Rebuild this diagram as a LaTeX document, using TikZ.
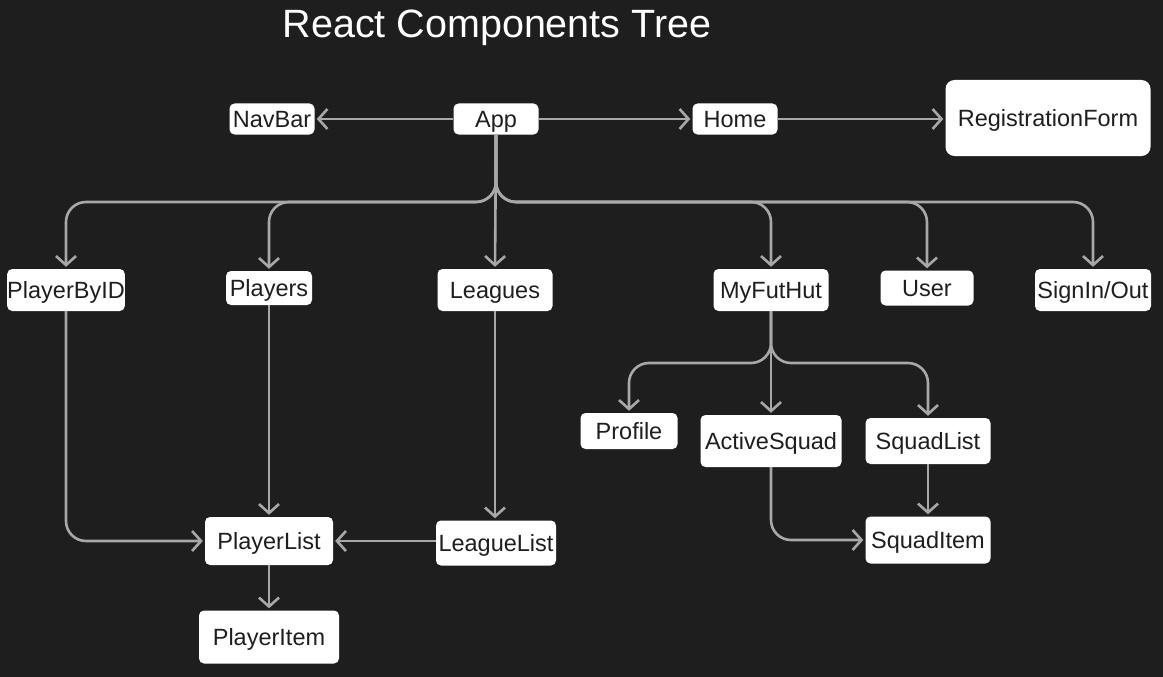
\documentclass[tikz,border=0pt]{standalone}
\usepackage{fontspec}
\setmainfont{Liberation Sans}
\usetikzlibrary{arrows.meta}
\definecolor{bg}{HTML}{1E1E1E}
\definecolor{ln}{HTML}{A8A8A8}
\definecolor{tx}{HTML}{1E1E1E}
\tikzset{
  comp/.style={draw=none, fill=white, rounded corners=5pt, inner sep=0pt, text=tx,
    font=\fontsize{23.5}{25}\selectfont, text height=17pt, text depth=0pt, anchor=center},
  conn/.style={draw=ln, line width=2.6pt, -{Straight Barb[length=9pt,width=20pt,line width=2.6pt]},
    shorten >=2pt, rounded corners=20pt},
}
\begin{document}
\begin{tikzpicture}[x=1pt,y=-1pt]
\fill[bg] (0,0) rectangle (1163,677);
\useasboundingbox (0,0) rectangle (1163,677);
\node[text=white, font=\fontsize{39.5}{41}\selectfont, inner sep=0pt, text height=28pt, text depth=0pt] (title) at (497,24) {React Components Tree};

\node[comp, minimum width=85pt, minimum height=31pt] (NavBar) at (272,119) {NavBar};
\node[comp, minimum width=85pt, minimum height=31pt] (App) at (496,119) {App};
\node[comp, minimum width=85pt, minimum height=31pt] (Home) at (735,119) {Home};
\node[comp, minimum width=205pt, minimum height=76pt, rounded corners=9pt] (Reg) at (1048,118) {RegistrationForm};

\node[comp, minimum width=115pt, minimum height=42pt] (PlayerByID) at (66,290) {PlayerByID};
\node[comp, minimum width=86pt, minimum height=34pt] (Players) at (269,288) {Players};
\node[comp, minimum width=115pt, minimum height=42pt] (Leagues) at (495,290) {Leagues};
\node[comp, minimum width=115pt, minimum height=42pt] (MyFutHut) at (771,290) {MyFutHut};
\node[comp, minimum width=93pt, minimum height=35pt] (User) at (927,288) {User};
\node[comp, minimum width=116pt, minimum height=42pt] (SignIn) at (1093,290) {SignIn/Out};

\node[comp, minimum width=97pt, minimum height=36pt] (Profile) at (629,431) {Profile};
\node[comp, minimum width=141pt, minimum height=52pt] (ActiveSquad) at (771,441) {ActiveSquad};
\node[comp, minimum width=125pt, minimum height=46pt] (SquadList) at (928,441) {SquadList};
\node[comp, minimum width=125pt, minimum height=47pt] (SquadItem) at (928,540) {SquadItem};

\node[comp, minimum width=128pt, minimum height=48pt] (PlayerList) at (269,541) {PlayerList};
\node[comp, minimum width=120pt, minimum height=45pt] (LeagueList) at (496,543) {LeagueList};
\node[comp, minimum width=140pt, minimum height=53pt] (PlayerItem) at (269,637) {PlayerItem};

\coordinate (bus) at (496,202);
\coordinate (mbus) at (771,363);

% top row
\draw[conn] (App.west) -- (NavBar.east);
\draw[conn] (App.east) -- (Home.west);
\draw[conn] (Home.east) -- (Home.east -| Reg.west);

% App fan-out
\draw[conn] (App.south) -- (bus) -| (PlayerByID.north);
\draw[conn] (App.south) -- (bus) -| (Players.north);
\draw[conn] (App.south) -- (Leagues.north);
\draw[conn] (App.south) -- (bus) -| (MyFutHut.north);
\draw[conn] (App.south) -- (bus) -| (User.north);
\draw[conn] (App.south) -- (bus) -| (SignIn.north);

% MyFutHut fan-out
\draw[conn] (MyFutHut.south) -- (mbus) -| (Profile.north);
\draw[conn] (MyFutHut.south) -- (ActiveSquad.north);
\draw[conn] (MyFutHut.south) -- (mbus) -| (SquadList.north);

\draw[conn] (ActiveSquad.south) |- (SquadItem.west);
\draw[conn] (SquadList.south) -- (SquadItem.north);

% players side
\draw[conn] (PlayerByID.south) |- (PlayerList.west);
\draw[conn] (Players.south) -- (PlayerList.north);
\draw[conn] (Leagues.south) -- (Leagues.south |- LeagueList.north);
\draw[conn] (LeagueList.west |- PlayerList.east) -- (PlayerList.east);
\draw[conn] (PlayerList.south) -- (PlayerItem.north);
\end{tikzpicture}
\end{document}
